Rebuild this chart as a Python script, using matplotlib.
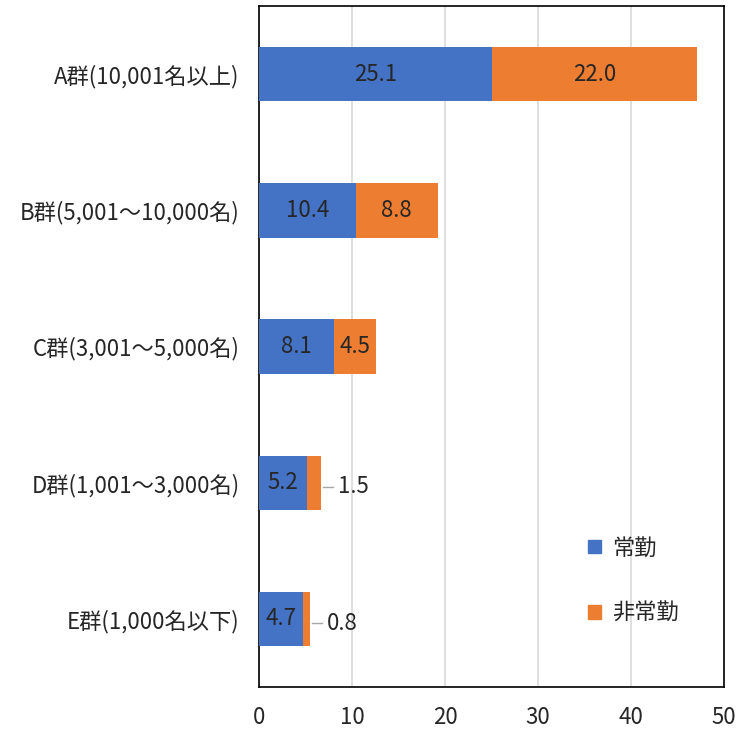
import matplotlib
matplotlib.use("Agg")
import matplotlib.pyplot as plt
from matplotlib.patches import Patch

plt.rcParams['font.family'] = ['Noto Sans CJK JP', 'DejaVu Sans']

categories = ["A群(10,001名以上)", "B群(5,001～10,000名)", "C群(3,001～5,000名)",
              "D群(1,001～3,000名)", "E群(1,000名以下)"]
regular = [25.1, 10.4, 8.1, 5.2, 4.7]
nonregular = [22.0, 8.8, 4.5, 1.5, 0.8]
series_names = ["常勤", "非常勤"]
x_ticks = [0, 10, 20, 30, 40, 50]

blue = "#4472C4"
orange = "#ED7D31"
text_color = "#262626"
fs = 16

fig = plt.figure(figsize=(7.40, 7.29), dpi=100)
ax = fig.add_axes([0.350, 0.0576, 0.6284, 0.934])

y = list(range(len(categories)))
h = 0.4
ax.barh(y, regular, height=h, color=blue, zorder=3)
ax.barh(y, nonregular, left=regular, height=h, color=orange, zorder=3)

for yi, r, n in zip(y, regular, nonregular):
    ax.text(r / 2, yi, f"{r:.1f}", ha="center", va="center",
            fontsize=fs, color=text_color, zorder=4)
    if n >= 3:
        ax.text(r + n / 2, yi, f"{n:.1f}", ha="center", va="center",
                fontsize=fs, color=text_color, zorder=4)
    else:
        end = r + n
        ax.plot([end + 0.15, end + 1.25], [yi + 0.03, yi + 0.03],
                color="#A6A6A6", lw=1, zorder=4)
        ax.text(end + 1.75, yi + 0.03, f"{n:.1f}", ha="left", va="center",
                fontsize=fs, color=text_color, zorder=4)

ax.set_xlim(0, 50)
ax.set_ylim(len(categories) - 0.5, -0.5)
ax.set_yticks(y)
ax.set_yticklabels(categories, fontsize=fs, color=text_color)
ax.set_xticks(x_ticks)
ax.set_xticklabels([str(t) for t in x_ticks], fontsize=fs, color=text_color)
ax.tick_params(axis="x", length=0, pad=14)
ax.tick_params(axis="y", length=0, pad=14)

ax.grid(axis="x", color="#D9D9D9", lw=1.2, zorder=0)
for s in ax.spines.values():
    s.set_color("black")
    s.set_linewidth(1.2)

handles = [Patch(color=blue), Patch(color=orange)]
leg = ax.legend(handles, series_names, loc="lower right",
                bbox_to_anchor=(0.945, 0.062), frameon=False,
                fontsize=fs, labelspacing=1.9, handlelength=0.55,
                handleheight=0.55, handletextpad=0.5)
for t in leg.get_texts():
    t.set_color(text_color)

fig.savefig("out.png", dpi=100, facecolor="white")
